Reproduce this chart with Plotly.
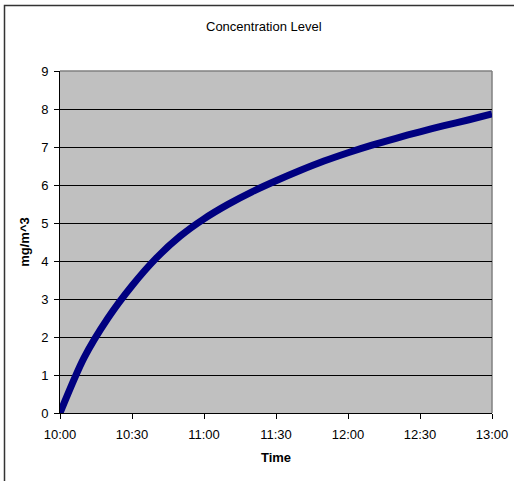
import plotly.graph_objects as go

times = ["10:00", "10:10", "10:20", "10:30", "10:40", "10:50", "11:00", "11:10", "11:20",
         "11:30", "11:40", "11:50", "12:00", "12:10", "12:20", "12:30", "12:40", "12:50", "13:00"]
conc = [0.0, 1.45, 2.5, 3.35, 4.07, 4.65, 5.11, 5.49, 5.82, 6.11, 6.38, 6.63, 6.85, 7.05,
        7.23, 7.40, 7.56, 7.71, 7.87]
tick_labels = ["10:00", "10:30", "11:00", "11:30", "12:00", "12:30", "13:00"]
y_ticks = [0, 1, 2, 3, 4, 5, 6, 7, 8, 9]

x = ["2000-01-01 " + t for t in times]
xt = ["2000-01-01 " + t for t in tick_labels]

W, H = 514, 481
L, R, T, B = 60, 22, 71, 68
pw, ph = W - L - R, H - T - B

def px(xp):
    return (xp - L) / pw

def py(yp):
    return (H - B - yp) / ph

font = "Liberation Sans, Arial, sans-serif"

fig = go.Figure()
fig.add_trace(go.Scatter(
    x=x, y=conc, mode="lines",
    line=dict(color="#000080", width=7, shape="spline", smoothing=0.8),
    cliponaxis=False, showlegend=False,
))

fig.update_layout(
    width=W, height=H,
    margin=dict(l=L, r=R, t=T, b=B, autoexpand=False),
    paper_bgcolor="white",
    plot_bgcolor="#C0C0C0",
    font=dict(family=font, size=13, color="black"),
    xaxis=dict(
        type="date", range=[xt[0], xt[-1]],
        tickvals=xt, ticktext=tick_labels,
        showgrid=False, zeroline=False, automargin=False,
        showline=True, linecolor="black", linewidth=1,
        ticks="outside", ticklen=5, tickcolor="black",
        ticklabelstandoff=4,
        title=dict(text="<b>Time</b>", font=dict(size=13), standoff=12),
    ),
    yaxis=dict(
        range=[0, 9], tickvals=y_ticks,
        showgrid=True, gridcolor="black", gridwidth=1, zeroline=False,
        showline=True, linecolor="black", linewidth=1, automargin=False,
        ticks="outside", ticklen=5, tickcolor="black",
        ticklabelstandoff=3,
        title=dict(text="<b>mg/m^3</b>", font=dict(size=13), standoff=8),
    ),
    shapes=[
        dict(type="line", xref="paper", yref="paper", x0=0, x1=1, y0=1, y1=1,
             line=dict(color="#808080", width=1.5), layer="above"),
        dict(type="line", xref="paper", yref="paper", x0=1, x1=1, y0=0, y1=1,
             line=dict(color="#808080", width=1.5), layer="below"),
        dict(type="rect", xref="paper", yref="paper",
             x0=px(4.5), x1=px(540), y0=py(5.5), y1=py(500),
             line=dict(color="#333333", width=1.5), layer="below"),
    ],
    annotations=[
        dict(text="Concentration Level", xref="paper", yref="paper",
             x=px(263.5), y=py(27), xanchor="center", yanchor="middle",
             showarrow=False, font=dict(size=13)),
    ],
)

fig.write_html("out.html")
